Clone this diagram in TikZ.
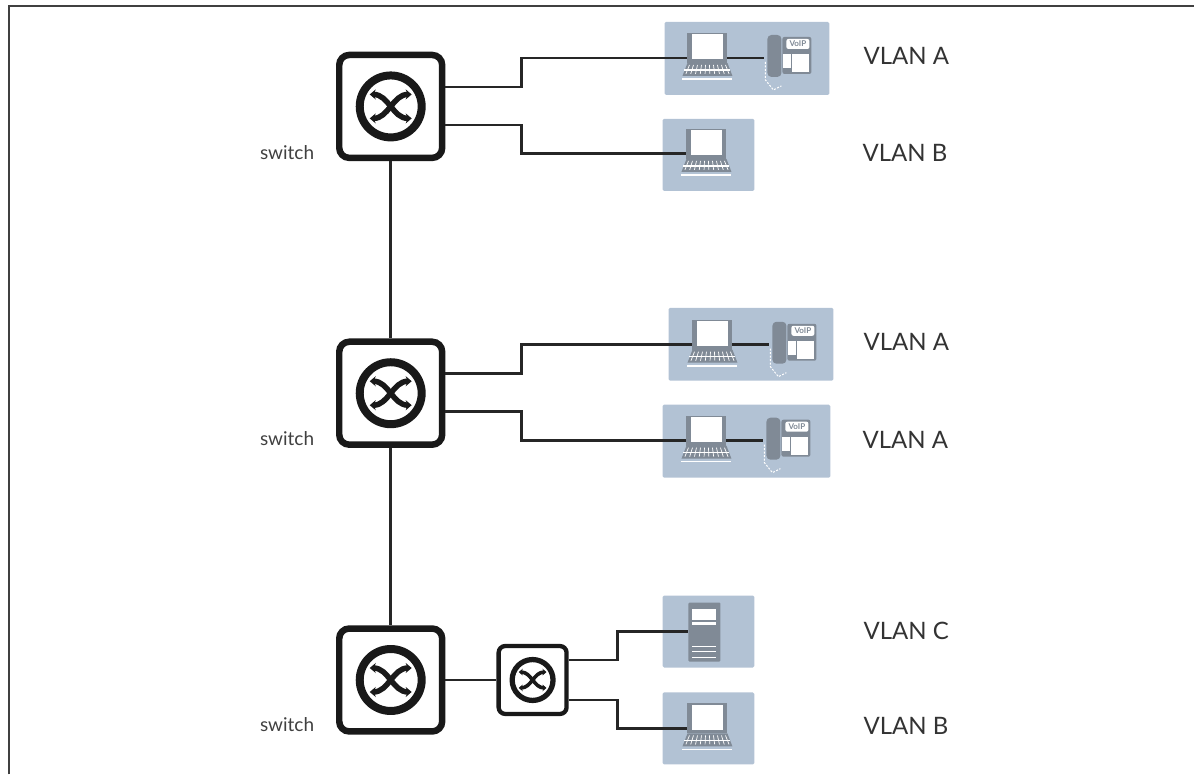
\documentclass[tikz,border=0pt]{standalone}
\usepackage{fontspec}
\setmainfont{Lato}
\usetikzlibrary{arrows.meta}
\definecolor{panelblue}{RGB}{178,194,212}
\definecolor{devgrey}{RGB}{128,138,150}
\begin{document}
\begin{tikzpicture}[x=1pt,y=-1pt]
	\tikzset{
		wire/.style={line width=2.8pt, draw=black!85},
		panel/.style={fill=panelblue, rounded corners=1.5pt},
		vlan/.style={font=\fontsize{24}{26}\selectfont, text=black!80, anchor=west, inner sep=0pt},
		swlabel/.style={font=\fontsize{19}{22}\selectfont, text=black!75, anchor=west, inner sep=0pt},
		pics/switch/.style={code={
			\node[draw=black!90, fill=white, rounded corners=#1*10pt, line width=#1*6.5pt, minimum size=#1*103pt, inner sep=0pt] (-box) at (0,0) {};
			\draw[line width=#1*8pt, black!90] (0,0) circle (#1*31pt);
			\draw[line width=#1*5.5pt, black!90, {Stealth[length=#1*6pt,width=#1*10pt]}-{Stealth[length=#1*6pt,width=#1*10pt]}] (#1*-21,#1*-12) .. controls (#1*-2,#1*-12) and (#1*2,#1*12) .. (#1*21,#1*12);
			\draw[line width=#1*5.5pt, black!90, {Stealth[length=#1*6pt,width=#1*10pt]}-{Stealth[length=#1*6pt,width=#1*10pt]}] (#1*-21,#1*12) .. controls (#1*-2,#1*12) and (#1*2,#1*-12) .. (#1*21,#1*-12);
		}},
		pics/laptop/.style={code={
			\fill[devgrey] (-20,-25) rectangle (20,5);
			\node[fill=white, minimum width=31pt, minimum height=25pt, inner sep=0pt] (-scr) at (0,-11) {};
			\coordinate (-l) at (-20,0);
			\coordinate (-r) at (20,0);
			\fill[devgrey] (-20,5) -- (20,5) -- (25,18) -- (-25,18) -- cycle;
			\foreach \kx in {-18,-14,...,18}
				\draw[white, line width=.7pt] (\kx,7) -- (\kx*1.2,16);
			\draw[white, line width=1.4pt] (-23,12) -- (23,12);
			\draw[white, line width=1.6pt] (-25,21) -- (25,21);
		}},
		pics/phone/.style={code={
			\fill[devgrey, rounded corners=2pt] (-7,-21) rectangle (22,16);
			\fill[devgrey, rounded corners=4pt] (-22,-23) rectangle (-8,19);
			\draw[white, line width=1pt, dash pattern=on 2pt off 1.5pt] (-24,4) -- (-24,22) -- (-16,32) -- (-8,28);
			\fill[white] (-6,-4) rectangle (2,10);
			\fill[white] (3,-4) rectangle (20,14);
			\fill[white, rounded corners=2pt] (-3,-19) rectangle (20,-9);
			\node[devgrey, font=\fontsize{8}{8}\selectfont\bfseries, inner sep=0pt] at (8.5,-14) {VoIP};
			\coordinate (-l) at (-25,0);
		}},
		pics/server/.style={code={
			\fill[devgrey, rounded corners=1pt] (-16,-29) rectangle (16,30);
			\fill[white] (-12,-23) rectangle (12,-12);
			\fill[white] (-12,-10) rectangle (12,-7);
			\foreach \ky in {15,20,26}
				\draw[white, line width=1.3pt] (-12,\ky) -- (12,\ky);
			\coordinate (-l) at (-16,0);
		}}
	}
%% Panels
	\fill[panel] (665,22) rectangle (830,95);
	\fill[panel] (663,119) rectangle (755,191);
	\fill[panel] (669,308) rectangle (834,381);
	\fill[panel] (663,405) rectangle (831,478);
	\fill[panel] (663,596) rectangle (755,668);
	\fill[panel] (663,693) rectangle (755,765);
%% Switches
	\pic (sw1) at (391,106.5) {switch=1};
	\pic (sw2) at (391,393.5) {switch=1};
	\pic (sw3) at (391,680.5) {switch=1};
	\pic (sw4) at (533,680.5) {switch=.66};
%% Devices
	\pic (lap1) at (708,58) {laptop};
	\pic (tel1) at (790,58) {phone};
	\pic (lap2) at (707,154) {laptop};
	\pic (lap3) at (713,345) {laptop};
	\pic (tel2) at (795,345) {phone};
	\pic (lap4) at (707,441) {laptop};
	\pic (tel3) at (789,441) {phone};
	\pic (srv1) at (705,632) {server};
	\pic (lap5) at (708,729) {laptop};
%Labels
	\node[swlabel] (s1) at (260,153) {switch};
	\node[swlabel] (s2) at (260,439) {switch};
	\node[swlabel] (s3) at (260,725) {switch};
	\node[vlan] (v1) at (864,56) {VLAN A};
	\node[vlan] (v2) at (863,153) {VLAN B};
	\node[vlan] (v3) at (864,342) {VLAN A};
	\node[vlan] (v4) at (863,440) {VLAN A};
	\node[vlan] (v5) at (864,631) {VLAN C};
	\node[vlan] (v6) at (864,726) {VLAN B};
%Edges
	\draw[wire] (sw1-box) -- (sw2-box);
	\draw[wire] (sw2-box) -- (sw3-box);
	\draw[wire] (sw3-box) -- (sw4-box);
	\draw[wire] ([yshift=19.5pt]sw1-box.east) -- ++(76,0) |- (lap1-l);
	\draw[wire] ([yshift=-18.5pt]sw1-box.east) -- ++(76,0) |- (lap2-l);
	\draw[wire] ([yshift=19.5pt]sw2-box.east) -- ++(76,0) |- (lap3-l);
	\draw[wire] ([yshift=-18.5pt]sw2-box.east) -- ++(76,0) |- (lap4-l);
	\draw[wire] ([yshift=20pt]sw4-box.east) -- ++(49,0) |- (srv1-l);
	\draw[wire] ([yshift=-20pt]sw4-box.east) -- ++(49,0) |- (lap5-l);
	\draw[wire] (lap1-r) -- (tel1-l);
	\draw[wire] (lap3-r) -- (tel2-l);
	\draw[wire] (lap4-r) -- (tel3-l);
%Frame
	\draw[line width=1.8pt, black!75] (9,775) -- (9,6) -- (1195,6);
	\useasboundingbox (0,0) rectangle (1195,775);
\end{tikzpicture}
\end{document}
